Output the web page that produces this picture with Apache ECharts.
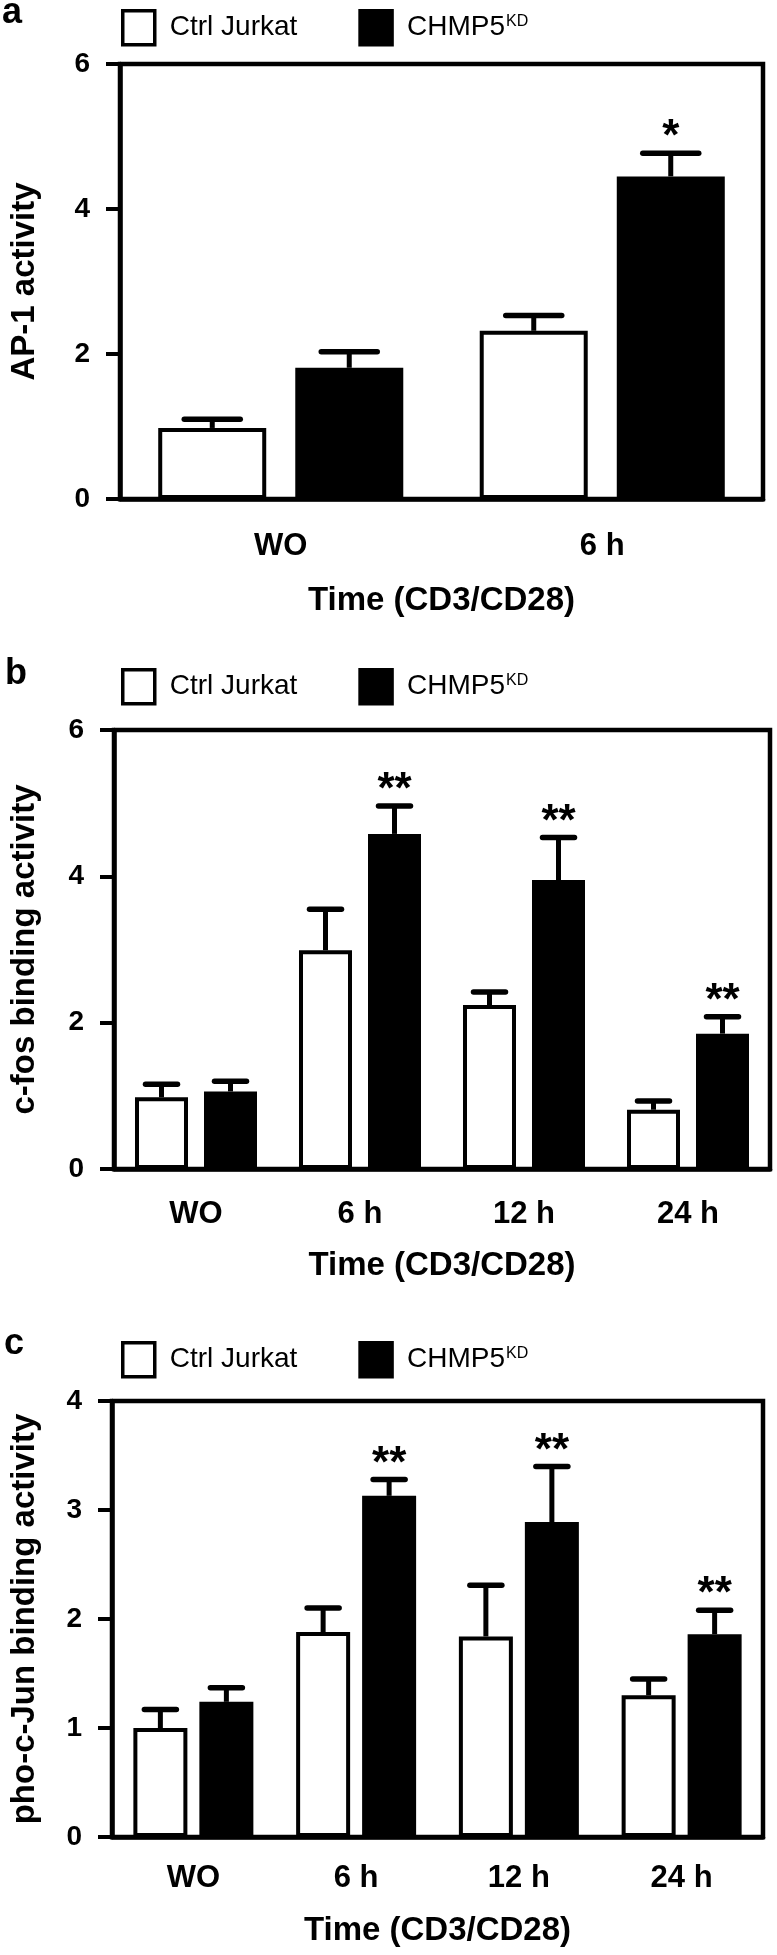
<!DOCTYPE html>
<html>
<head>
<meta charset="utf-8">
<script src="https://cdn.jsdelivr.net/npm/echarts@6/dist/echarts.min.js"></script>
<style>
html,body{margin:0;padding:0;background:#fff;}
#chart{width:777px;height:1955px;}
</style>
</head>
<body>
<div id="chart"></div>
<script>
// ---------------- DATA ----------------
const seriesNames = ['Ctrl Jurkat', 'CHMP5KD'];
const xTitle = 'Time (CD3/CD28)';

// Panel a
const catsA = ['WO', '6 h'];
const yTitleA = 'AP-1 activity';
const ctrlA = [0.98, 2.32];
const ctrlErrA = [0.12, 0.21];
const kdA = [1.81, 4.45];
const kdErrA = [0.22, 0.32];
const sigA = ['', '*'];
const yTicksA = {max: 6, interval: 2};

// Panel b
const catsB = ['WO', '6 h', '12 h', '24 h'];
const yTitleB = 'c-fos binding activity';
const ctrlB = [0.98, 2.99, 2.24, 0.81];
const ctrlErrB = [0.18, 0.56, 0.18, 0.12];
const kdB = [1.06, 4.58, 3.95, 1.85];
const kdErrB = [0.14, 0.38, 0.58, 0.23];
const sigB = ['', '**', '**', '**'];
const yTicksB = {max: 6, interval: 2};

// Panel c
const catsC = ['WO', '6 h', '12 h', '24 h'];
const yTitleC = 'pho-c-Jun binding activity';
const ctrlC = [1.00, 1.88, 1.84, 1.30];
const ctrlErrC = [0.17, 0.22, 0.47, 0.15];
const kdC = [1.24, 3.13, 2.89, 1.86];
const kdErrC = [0.13, 0.15, 0.51, 0.22];
const sigC = ['', '**', '**', '**'];
const yTicksC = {max: 4, interval: 1};

const panelLetters = ['a', 'b', 'c'];

// ---------------- LAYOUT ----------------
const FONT = '"Liberation Sans", Arial, Helvetica, sans-serif';
const layouts = [
  {top: 64, height: 435, left: 112, right: 14, barWidth: 108, gap: 29, capW: 56,
   legendTop: 9, letterTop: -5, letterLeft: 2, labelMargin: 32, nameGap: 85, yNameGap: 79},
  {top: 730, height: 439, left: 110, right: 7, barWidth: 53, gap: 16, capW: 32,
   legendTop: 668, letterTop: 656, letterLeft: 5, labelMargin: 30, nameGap: 80, yNameGap: 73},
  {top: 1401, height: 436, left: 108, right: 14, barWidth: 54, gap: 12, capW: 32,
   legendTop: 1341, letterTop: 1326, letterLeft: 4, labelMargin: 26, nameGap: 77, yNameGap: 71}
];

const panels = [
  {cats: catsA, yTitle: yTitleA, ctrl: ctrlA, ctrlErr: ctrlErrA, kd: kdA, kdErr: kdErrA, sig: sigA, ticks: yTicksA},
  {cats: catsB, yTitle: yTitleB, ctrl: ctrlB, ctrlErr: ctrlErrB, kd: kdB, kdErr: kdErrB, sig: sigB, ticks: yTicksB},
  {cats: catsC, yTitle: yTitleC, ctrl: ctrlC, ctrlErr: ctrlErrC, kd: kdC, kdErr: kdErrC, sig: sigC, ticks: yTicksC}
];

const grids = [], xAxes = [], yAxes = [], series = [], legends = [], titles = [];

panels.forEach((p, pi) => {
  const L = layouts[pi];
  grids.push({left: L.left, right: L.right, top: L.top, height: L.height,
    show: true, borderColor: '#000', borderWidth: 4.5, backgroundColor: 'transparent'});
  xAxes.push({
    gridIndex: pi, type: 'category', data: p.cats,
    axisLine: {lineStyle: {color: '#000', width: 4.5}},
    axisTick: {alignWithLabel: true, length: 12, lineStyle: {color: '#000', width: 3.5}},
    axisLabel: {fontSize: 31, fontWeight: 'bold', color: '#000', margin: L.labelMargin, fontFamily: FONT},
    name: xTitle, nameLocation: 'middle', nameGap: L.nameGap,
    nameTextStyle: {fontSize: 33, fontWeight: 'bold', color: '#000', fontFamily: FONT}
  });
  yAxes.push({
    gridIndex: pi, type: 'value', min: 0, max: p.ticks.max, interval: p.ticks.interval,
    axisLine: {show: true, lineStyle: {color: '#000', width: 4.5}},
    axisTick: {show: true, length: 14, lineStyle: {color: '#000', width: 4}},
    axisLabel: {fontSize: 28, fontWeight: 'bold', color: '#000', margin: 30, fontFamily: FONT},
    splitLine: {show: false},
    name: p.yTitle, nameLocation: 'middle', nameRotate: 90, nameGap: L.yNameGap,
    nameTextStyle: {fontSize: 33, fontWeight: 'bold', color: '#000', fontFamily: FONT}
  });
  const barGap = (L.gap / L.barWidth * 100).toFixed(1) + '%';
  series.push({
    type: 'bar', name: seriesNames[0], xAxisIndex: pi, yAxisIndex: pi, data: p.ctrl,
    barWidth: L.barWidth, barGap: barGap, z: 3,
    itemStyle: {color: '#fff', borderColor: '#000', borderWidth: 4}
  });
  series.push({
    type: 'bar', name: seriesNames[1], xAxisIndex: pi, yAxisIndex: pi, data: p.kd,
    barWidth: L.barWidth, barGap: barGap, z: 3,
    itemStyle: {color: '#000', borderColor: '#000', borderWidth: 4}
  });
  // error bars (upper only)
  [[p.ctrl, p.ctrlErr, -1], [p.kd, p.kdErr, 1]].forEach(([vals, errs, sign]) => {
    series.push({
      type: 'custom', xAxisIndex: pi, yAxisIndex: pi, z: 5, silent: true,
      data: vals.map((v, i) => [i, v, v + errs[i]]),
      renderItem: (params, api) => {
        const off = sign * (L.barWidth + L.gap) / 2;
        const base = api.coord([api.value(0), api.value(1)]);
        const top = api.coord([api.value(0), api.value(2)]);
        const x = base[0] + off;
        return {type: 'group', children: [
          {type: 'line', shape: {x1: x, y1: base[1], x2: x, y2: top[1]},
           style: {stroke: '#000', lineWidth: 5}},
          {type: 'line', shape: {x1: x - L.capW / 2, y1: top[1], x2: x + L.capW / 2, y2: top[1]},
           style: {stroke: '#000', lineWidth: 5.5, lineCap: 'round'}}
        ]};
      }
    });
  });
  // significance stars above CHMP5KD error caps
  series.push({
    type: 'custom', xAxisIndex: pi, yAxisIndex: pi, z: 6, silent: true,
    data: p.kd.map((v, i) => [i, v + p.kdErr[i]]),
    renderItem: (params, api) => {
      const idx = api.value(0);
      const s = p.sig[idx];
      if (!s) return null;
      const off = (L.barWidth + L.gap) / 2;
      const pt = api.coord([idx, api.value(1)]);
      return {type: 'text', x: pt[0] + off, y: pt[1] - 15,
        style: {text: s, font: 'bold 44px ' + FONT, fill: '#000', align: 'center', verticalAlign: 'middle'}};
    }
  });
  legends.push({
    top: L.legendTop, left: 121, padding: 0, itemWidth: 32, itemHeight: 34, itemGap: 61,
    icon: 'rect', selectedMode: false, data: seriesNames,
    itemStyle: {borderColor: '#000', borderWidth: 3.5},
    formatter: (name) => name === 'CHMP5KD' ? '{t|CHMP5}{s|KD}' : '{t|' + name + '}',
    textStyle: {fontSize: 28, color: '#000', fontFamily: FONT,
      rich: {
        t: {fontSize: 28, color: '#000', fontFamily: FONT, padding: [0, 0, 0, 10]},
        s: {fontSize: 16, color: '#000', fontFamily: FONT, verticalAlign: 'top', padding: [0, 0, 12, 1]}
      }}
  });
  titles.push({text: panelLetters[pi], left: L.letterLeft, top: L.letterTop, padding: 0,
    textStyle: {fontSize: 36, fontWeight: 'bold', color: '#000', fontFamily: FONT}});
});

const chart = echarts.init(document.getElementById('chart'), null, {renderer: 'canvas'});
chart.setOption({
  animation: false,
  backgroundColor: '#fff',
  textStyle: {fontFamily: FONT},
  title: titles,
  legend: legends,
  grid: grids,
  xAxis: xAxes,
  yAxis: yAxes,
  series: series
});
</script>
</body>
</html>
